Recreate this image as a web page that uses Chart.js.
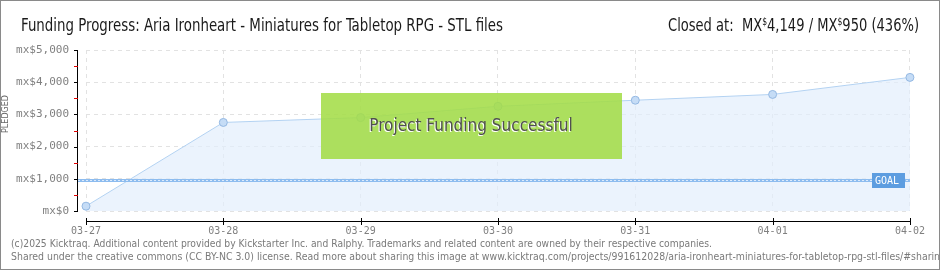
<!DOCTYPE html>
<html>
<head>
<meta charset="utf-8">
<script src="https://cdn.jsdelivr.net/npm/chart.js@4.4.1/dist/chart.umd.min.js"></script>
<style>
  html, body { margin: 0; padding: 0; background: #fff; }
  #wrap { position: relative; width: 940px; height: 270px; box-sizing: border-box; border: 1px solid #8a8a8a; }
  canvas { position: absolute; left: 0; top: 0; }
</style>
</head>
<body>
<div id="wrap"><canvas id="chart" width="938" height="268"></canvas></div>
<script>
// ================= DATA =================
const fechas = ["03-27", "03-28", "03-29", "03-30", "03-31", "04-01", "04-02"];
const pledged = [150, 2750, 2900, 3250, 3440, 3620, 4149];
const yTicks = [0, 1000, 2000, 3000, 4000, 5000];
const goal = 950;
const titulo = "Funding Progress: Aria Ironheart - Miniatures for Tabletop RPG - STL files";
const cerrado = ["Closed at:  MX", "4,149 / MX", "950 (436%)"];
const footer = [
  "(c)2025 Kicktraq. Additional content provided by Kickstarter Inc. and Ralphy. Trademarks and related content are owned by their respective companies.",
  "Shared under the creative commons (CC BY-NC 3.0) license. Read more about sharing this image at www.kicktraq.com/projects/991612028/aria-ironheart-miniatures-for-tabletop-rpg-stl-files/#sharing"
];

const TITLE_FONT = "'Liberation Sans Narrow', 'DejaVu Sans Condensed', sans-serif";

// ================= PLUGIN DECORACION =================
const decoPlugin = {
  id: "deco",
  afterDatasetsDraw(chart) {
    const { ctx, chartArea, scales } = chart;
    const y = scales.y;
    const x = scales.x;

    ctx.save();

    // goal line (patron punteado grueso)
    const gy = Math.round(y.getPixelForValue(goal));
    ctx.fillStyle = "#8dbcef";
    ctx.fillRect(76, gy - 1, chartArea.right - 76, 3);
    ctx.fillStyle = "#dbeafb";
    for (let gx = 77; gx < chartArea.right - 1; gx += 4) {
      ctx.fillRect(gx, gy, 2, 1);
    }

    // GOAL tag
    ctx.fillStyle = "#5d9de0";
    ctx.fillRect(871, gy - 7, 33, 15);
    ctx.fillStyle = "#fff";
    ctx.font = "10px 'DejaVu Sans Mono', monospace";
    ctx.textBaseline = "middle";
    ctx.textAlign = "left";
    ctx.fillText("GOAL", 874, gy + 1);

    // y axis line with ticks
    ctx.fillStyle = "#000";
    ctx.fillRect(76, chartArea.top, 1, chartArea.bottom - chartArea.top + 1);
    for (let v = 0; v <= 5000; v += 500) {
      const py = Math.round(y.getPixelForValue(v));
      ctx.fillStyle = (v % 1000 === 0) ? "#000" : "#e00000";
      ctx.fillRect(73, py, 4, 1);
    }

    // x axis line with ticks
    ctx.fillStyle = "#000";
    const x0 = Math.round(x.getPixelForValue(0));
    const x1 = Math.round(x.getPixelForValue(fechas.length - 1));
    ctx.fillRect(x0, 220, x1 - x0 + 1, 1);
    fechas.forEach((f, i) => {
      const px = Math.round(x.getPixelForValue(i));
      ctx.fillRect(px, 217, 1, 7);
    });

    // green success box
    ctx.fillStyle = "rgba(164, 221, 72, 0.88)";
    ctx.fillRect(320, 92, 301, 66);
    ctx.font = "17px " + TITLE_FONT;
    ctx.textAlign = "center";
    ctx.textBaseline = "middle";
    ctx.fillStyle = "#fff";
    ctx.fillText("Project Funding Successful", 469, 127);
    ctx.fillStyle = "#505050";
    ctx.fillText("Project Funding Successful", 470, 126);

    // title
    ctx.textAlign = "left";
    ctx.textBaseline = "alphabetic";
    ctx.fillStyle = "#1a1a1a";
    ctx.font = "17px " + TITLE_FONT;
    const tw = ctx.measureText(titulo).width;
    ctx.save();
    ctx.translate(20, 30);
    ctx.scale(482 / tw, 1);
    ctx.fillText(titulo, 0, 0);
    ctx.restore();

    // closed at (right)
    const big = "17px " + TITLE_FONT;
    const small = "10px " + TITLE_FONT;
    const parts = [
      [cerrado[0], false], ["$", true], [cerrado[1], false], ["$", true], [cerrado[2], false]
    ];
    let total = 0;
    parts.forEach(p => { ctx.font = p[1] ? small : big; total += ctx.measureText(p[0]).width; });
    const sc = 251 / total;
    let cx = 0;
    ctx.save();
    ctx.translate(667, 30);
    ctx.scale(sc, 1);
    parts.forEach(p => {
      ctx.font = p[1] ? small : big;
      ctx.fillText(p[0], cx, p[1] ? -6 : 0);
      cx += ctx.measureText(p[0]).width;
    });
    ctx.restore();

    // PLEDGED
    ctx.save();
    ctx.translate(5, 113);
    ctx.rotate(-Math.PI / 2);
    ctx.font = "8px 'DejaVu Sans', sans-serif";
    ctx.textAlign = "center";
    ctx.textBaseline = "middle";
    ctx.fillStyle = "#666";
    ctx.fillText("PLEDGED", 0, 0);
    ctx.restore();

    // footer
    ctx.fillStyle = "#7a7a7a";
    ctx.font = "11px 'DejaVu Sans', sans-serif";
    ctx.textAlign = "left";
    ctx.textBaseline = "middle";
    footer.forEach((line, i) => {
      const w = ctx.measureText(line).width;
      const target = i === 0 ? 701 : 935;
      ctx.save();
      ctx.translate(10, 243 + i * 13);
      ctx.scale(target / w, 1);
      ctx.fillText(line, 0, 0);
      ctx.restore();
    });

    ctx.restore();
  }
};

// ================= CHART =================
const ctx = document.getElementById("chart").getContext("2d");

new Chart(ctx, {
  type: "line",
  data: {
    labels: fechas,
    datasets: [{
      data: pledged,
      borderColor: "#b3d2f2",
      backgroundColor: "rgba(226, 238, 252, 0.7)",
      fill: "origin",
      tension: 0,
      borderWidth: 1,
      pointRadius: 4,
      pointBackgroundColor: "#c5dcf6",
      pointBorderColor: "#94b8e2",
      pointBorderWidth: 1
    }]
  },
  plugins: [decoPlugin],
  options: {
    responsive: false,
    animation: false,
    layout: { padding: { top: 49, right: 28, left: 0, bottom: 0 } },
    plugins: {
      legend: { display: false },
      tooltip: { enabled: false }
    },
    scales: {
      x: {
        offset: false,
        afterFit(scale) { scale.height = 58; },
        grid: { color: "#e2e2e2", drawTicks: false },
        border: { display: false, dash: [4, 4] },
        ticks: {
          padding: 14,
          color: "#808080",
          font: { family: "'DejaVu Sans Mono', monospace", size: 10 },
          maxRotation: 0
        }
      },
      y: {
        min: 0,
        max: 5000,
        afterFit(scale) { scale.width = 85; },
        afterBuildTicks(scale) { scale.ticks = yTicks.map(v => ({ value: v })); },
        grid: { color: "#e2e2e2", drawTicks: false },
        border: { display: false, dash: [4, 4] },
        ticks: {
          padding: 17,
          color: "#808080",
          font: { family: "'DejaVu Sans Mono', monospace", size: 11 },
          callback: v => "mx$" + v.toLocaleString("en-US")
        }
      }
    }
  }
});
</script>
</body>
</html>
